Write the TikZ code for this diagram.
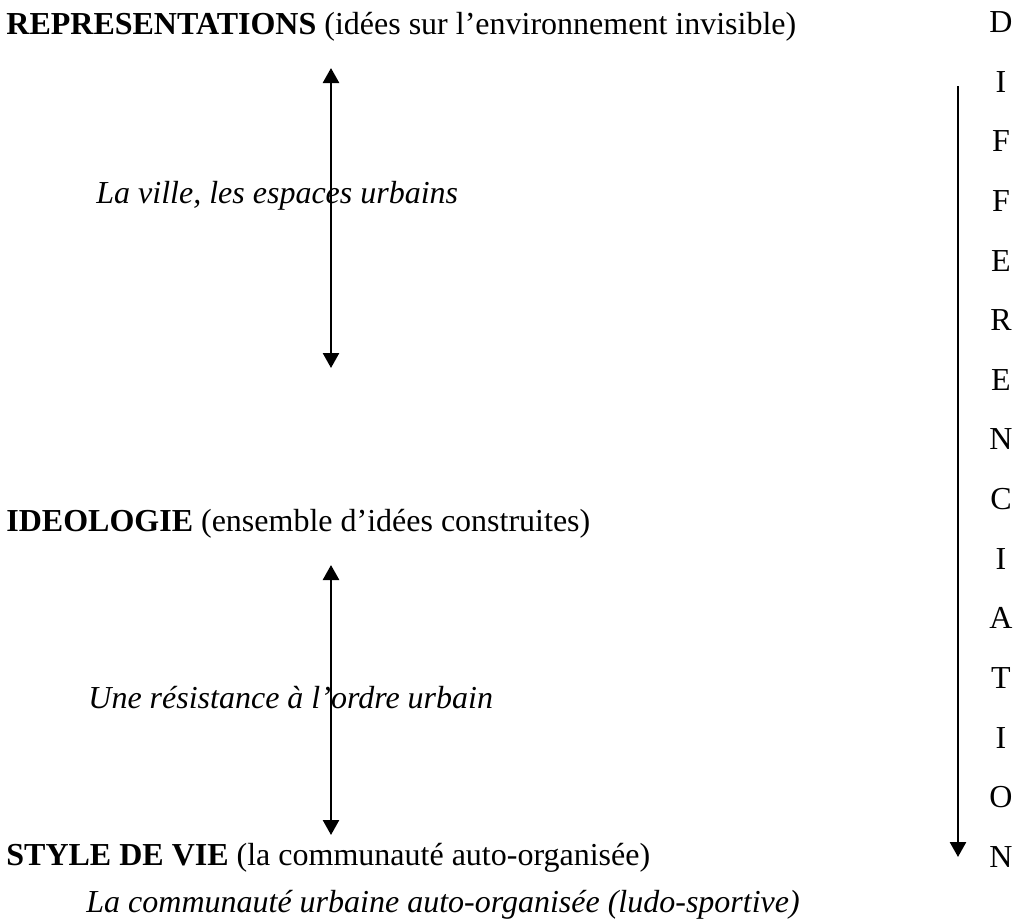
\documentclass[tikz,border=0pt]{standalone}
\usepackage{fontspec}
\setmainfont{Liberation Serif}
\usetikzlibrary{arrows.meta}
\begin{document}
\begin{tikzpicture}[
    x=0.5pt, y=-0.5pt,
    every node/.style={font=\fontsize{16}{19}\selectfont, inner sep=0pt},
    niveau/.style={anchor=west},
    commentaire/.style={anchor=west, font=\fontsize{16}{19}\selectfont\itshape},
    lettre/.style={anchor=center},
    fleche/.style={line width=1.3pt, -{Triangle[width=8pt,length=7.5pt]}},
    double fleche/.style={line width=1.3pt, {Triangle[width=8pt,length=7.5pt]}-{Triangle[width=8pt,length=7.5pt]}}
    ]
    \useasboundingbox (0,0) rectangle (1014,923);
    % niveaux
    \node[niveau] (rep) at (6,27) {\textbf{REPRESENTATIONS} (idées sur l’environnement invisible)};
    \node[niveau] (ideo) at (6,524) {\textbf{IDEOLOGIE} (ensemble d’idées construites)};
    \node[niveau] (style) at (6,858) {\textbf{STYLE DE VIE} (la communauté auto-organisée)};
    % commentaires
    \node[commentaire] (ville) at (96,196) {La ville, les espaces urbains};
    \node[commentaire] (resist) at (88,698) {Une résistance à l’ordre urbain};
    \node[commentaire] (commu) at (86,905) {La communauté urbaine auto-organisée (ludo-sportive)};
    % fleches
    \coordinate (a haut) at (331,68);
    \coordinate (a bas) at (331,368);
    \coordinate (b haut) at (331,565);
    \coordinate (b bas) at (331,835);
    \draw[double fleche] (a bas) -- (a haut);
    \draw[double fleche] (b bas) -- (b haut);
    % differenciation
    \foreach \l [count=\i from 0] in {D,I,F,F,E,R,E,N,C,I,A,T,I,O,N}
        \node[lettre] (d\i) at (1001,22+59.64*\i) {\l};
    \coordinate (diff haut) at (958,86);
    \coordinate (diff bas) at (958,857);
    \draw[fleche] (diff haut) -- (diff bas);
\end{tikzpicture}
\end{document}
